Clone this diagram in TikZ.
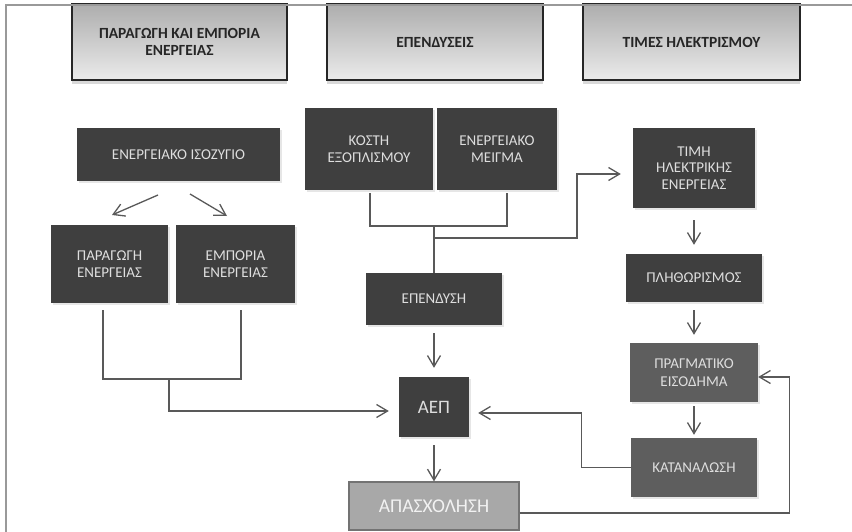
\documentclass[tikz,border=0pt]{standalone}
\usepackage{fontspec}
\setmainfont{Carlito}
\usepackage{xcolor}
\usepackage{tikz}
\usetikzlibrary{arrows.meta,shadows,calc}

\definecolor{scuro}{HTML}{3F3F3F}
\definecolor{medio}{HTML}{5E5E5E}
\definecolor{chiaro}{HTML}{A8A8A8}
\definecolor{linee}{HTML}{595959}

\begin{document}
\begin{tikzpicture}[x=1pt, y=-1pt, >={Straight Barb[length=11pt,width=13pt]},
  testa/.style={draw=black!85, line width=1.2pt, top color=black!32, bottom color=black!8,
    minimum height=76pt, align=center, text=black!85,
    font=\bfseries\fontsize{15.5}{17}\selectfont,
    drop shadow={shadow xshift=0pt, shadow yshift=-4pt, opacity=.3}},
  scatola/.style={fill=scuro, text=black!13, align=center,
    font=\fontsize{15}{17.5}\selectfont,
    drop shadow={shadow xshift=2pt, shadow yshift=-2pt, opacity=.2}},
  mediobox/.style={scatola, fill=medio},
  linea/.style={draw=linee, line width=1.3pt},
  freccia/.style={linea, ->}]
  \useasboundingbox (0,0) rectangle (852,532);

  % Intestazioni
  \node[testa, minimum width=215pt] (tparag) at (179.5,42) {ΠΑΡΑΓΩΓΗ ΚΑΙ ΕΜΠΟΡΙΑ\\ΕΝΕΡΓΕΙΑΣ};
  \node[testa, minimum width=216pt] (tepend) at (435,42) {ΕΠΕΝΔΥΣΕΙΣ};
  \node[testa, minimum width=217pt] (ttimes) at (691.5,42) {ΤΙΜΕΣ ΗΛΕΚΤΡΙΣΜΟΥ};

  % Cornice
  \draw[black!40, line width=1.5pt] (6,532) -- (6,5) -- (852,5);

  % Colonna sinistra
  \node[scatola, minimum width=203pt, minimum height=53pt] (isoz) at (178.5,154.5) {ΕΝΕΡΓΕΙΑΚΟ ΙΣΟΖΥΓΙΟ};
  \node[scatola, minimum width=117pt, minimum height=78pt] (parag) at (109.5,264) {ΠΑΡΑΓΩΓΗ\\ΕΝΕΡΓΕΙΑΣ};
  \node[scatola, minimum width=119pt, minimum height=78pt] (empor) at (235.5,264) {ΕΜΠΟΡΙΑ\\ΕΝΕΡΓΕΙΑΣ};

  % Colonna centrale
  \node[scatola, minimum width=128pt, minimum height=82pt] (kosti) at (369,149) {ΚΟΣΤΗ\\ΕΞΟΠΛΙΣΜΟΥ};
  \node[scatola, minimum width=120pt, minimum height=82pt] (meigma) at (497,149) {ΕΝΕΡΓΕΙΑΚΟ\\ΜΕΙΓΜΑ};
  \node[scatola, minimum width=136pt, minimum height=52pt] (ependysi) at (434,299) {ΕΠΕΝΔΥΣΗ};
  \node[scatola, minimum width=70pt, minimum height=60pt, font=\fontsize{19}{22}\selectfont] (aep) at (434,407) {ΑΕΠ};
  \node[fill=chiaro, draw=black!55, line width=1.2pt, text=white!95!black, minimum width=170pt,
    minimum height=48pt, font=\fontsize{19.5}{22}\selectfont] (apasx) at (434,506) {ΑΠΑΣΧΟΛΗΣΗ};

  % Colonna destra
  \node[scatola, minimum width=122pt, minimum height=80pt, font=\fontsize{15}{16.5}\selectfont] (timi) at (694,168) {ΤΙΜΗ\\ΗΛΕΚΤΡΙΚΗΣ\\ΕΝΕΡΓΕΙΑΣ};
  \node[scatola, minimum width=136pt, minimum height=48pt] (plith) at (694,278) {ΠΛΗΘΩΡΙΣΜΟΣ};
  \node[mediobox, minimum width=128pt, minimum height=59pt] (pragm) at (694,372.5) {ΠΡΑΓΜΑΤΙΚΟ\\ΕΙΣΟΔΗΜΑ};
  \node[mediobox, minimum width=126pt, minimum height=59pt] (katan) at (694,467.5) {ΚΑΤΑΝΑΛΩΣΗ};

  % Frecce sotto il bilancio
  \coordinate (d1a) at (158,195);
  \coordinate (d1b) at (112,215);
  \coordinate (d2a) at (190,194);
  \coordinate (d2b) at (227,216);
  \draw[freccia] (d1a) -- (d1b);
  \draw[freccia] (d2a) -- (d2b);

  % Raccordo produzione / commercio
  \coordinate (pL) at (103,310);
  \coordinate (eL) at (241,310);
  \coordinate (jL) at (169,379);
  \draw[linea] (pL) |- (jL) -| (eL);
  \draw[freccia, shorten >=10pt] (jL) |- ($(aep.west)+(0,4)$);

  % Raccordo costi / mix
  \coordinate (kL) at (370,193);
  \coordinate (mR) at (507,193);
  \coordinate (jM) at (434,226);
  \coordinate (jB) at (434,238);
  \draw[linea] (kL) |- (jM) -| (mR);
  \draw[linea] (jM) -- (ependysi.north);
  \draw[freccia, shorten >=12pt] (jB) -- (577,238) |- ($(timi.west)+(0,6)$);

  % Frecce verticali
  \draw[freccia, shorten <=8pt, shorten >=9pt] (ependysi) -- (aep);
  \draw[freccia, shorten <=8pt] (aep) -- (apasx);
  \draw[freccia, shorten <=12pt, shorten >=9pt] (timi) -- (plith);
  \draw[freccia, shorten <=8pt, shorten >=8pt] (plith) -- (pragm);
  \draw[freccia, shorten <=4pt, shorten >=3pt] (pragm) -- (katan);

  % Ritorni
  \draw[freccia, shorten >=9pt] (katan.west) -- ++(-49,0) |- ($(aep.east)+(0,6)$);
  \draw[freccia] ($(apasx.east)+(0,7)$) -- ++(270,0) |- ($(pragm.east)+(0,4.5)$);
\end{tikzpicture}
\end{document}
